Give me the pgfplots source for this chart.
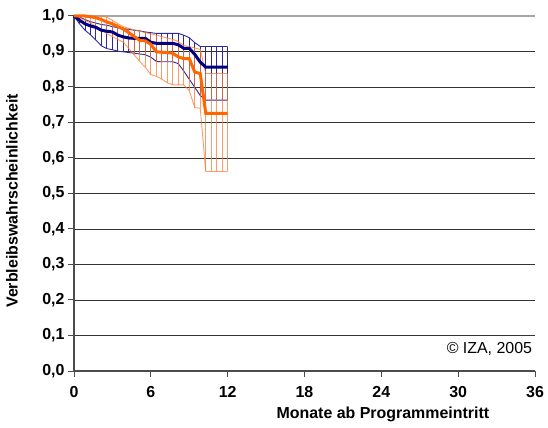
\documentclass[border=0pt]{standalone}
\usepackage{pgfplots}
\pgfplotsset{compat=1.18}
\usepackage{pgfplotstable}
\usepackage{fontspec}
\setmainfont{Liberation Sans}

\definecolor{navy}{HTML}{000080}
\definecolor{bband}{HTML}{2A2A9E}
\definecolor{omain}{HTML}{FF6600}
\definecolor{oband}{HTML}{FF7A30}

\pgfplotstableread{
x     bm    bh    bl    om    oh    ol
0.00  1.000 1.000 1.000 1.000 1.000 1.000
0.43  0.988 0.997 0.978 1.000 1.000 0.995
0.86  0.978 0.990 0.960 1.000 1.000 0.988
1.29  0.972 0.984 0.947 0.998 1.000 0.980
1.71  0.968 0.980 0.932 0.995 1.000 0.970
2.14  0.960 0.976 0.916 0.990 1.000 0.960
2.57  0.957 0.974 0.908 0.983 0.996 0.950
3.00  0.955 0.970 0.905 0.978 0.988 0.942
3.43  0.946 0.967 0.901 0.970 0.978 0.934
3.86  0.941 0.965 0.899 0.963 0.970 0.926
4.29  0.938 0.962 0.897 0.953 0.965 0.908
4.71  0.937 0.960 0.895 0.942 0.961 0.890
5.14  0.937 0.958 0.893 0.931 0.957 0.872
5.57  0.937 0.955 0.891 0.930 0.953 0.855
6.00  0.926 0.953 0.884 0.920 0.950 0.835
6.43  0.923 0.951 0.872 0.899 0.946 0.830
6.86  0.923 0.951 0.871 0.898 0.942 0.822
7.29  0.923 0.951 0.871 0.897 0.938 0.812
7.71  0.923 0.951 0.871 0.895 0.934 0.806
8.14  0.919 0.951 0.866 0.885 0.928 0.806
8.57  0.909 0.946 0.845 0.880 0.917 0.806
9.00  0.909 0.939 0.822 0.880 0.914 0.790
9.43  0.892 0.925 0.799 0.842 0.910 0.742
9.86  0.870 0.914 0.776 0.838 0.906 0.740
10.29 0.856 0.914 0.763 0.726 0.838 0.562
10.71 0.856 0.914 0.763 0.726 0.838 0.562
11.14 0.856 0.914 0.763 0.726 0.838 0.562
11.57 0.856 0.914 0.763 0.726 0.838 0.562
12.00 0.856 0.914 0.763 0.726 0.838 0.562
}\data

\begin{document}
\begin{tikzpicture}
\useasboundingbox (-74bp,-57bp) rectangle (474bp,371bp);
\begin{axis}[
  at={(0,0)}, anchor=south west,
  scale only axis, width=461bp, height=355bp,
  xmin=0, xmax=36, ymin=0, ymax=1,
  xtick={0,6,12,18,24,30,36},
  ytick={0,0.1,0.2,0.3,0.4,0.5,0.6,0.7,0.8,0.9,1},
  axis x line*=bottom, axis y line*=left,
  tick align=outside, major tick length=6bp,
  ymajorgrids, grid style={black!80, line width=0.9bp},
  axis line style={black!70, line width=1.3bp},
  tick style={black!70, line width=1bp},
  /pgf/number format/assume math mode=true,
  ticklabel style={font=\fontsize{16}{19}\selectfont\bfseries},
  yticklabel style={/pgf/number format/.cd, fixed, fixed zerofill, precision=1, use comma},
  xticklabel style={/pgf/number format/.cd, fixed, precision=0, /tikz/yshift=-6bp},
  xlabel={Monate ab Programmeintritt},
  label style={font=\fontsize{16}{19}\selectfont\bfseries},
  xlabel style={at={(rel axis cs:0.67,0)}, anchor=north, yshift=-32bp},
  clip=false,
]
\draw[gray!70, line width=1.6bp] (axis cs:0,1) -- (axis cs:36,1);
% blue confidence band
\addplot[bband, line width=0.9bp, mark=none,
  error bars/.cd, y dir=plus, y explicit, error mark=none,
  error bar style={bband, line width=0.9bp}]
  table[x=x, y=bl, y error expr=\thisrow{bh}-\thisrow{bl}] {\data};
\addplot[bband, line width=0.9bp, mark=none] table[x=x, y=bh] {\data};
% orange confidence band
\addplot[oband, opacity=0.75, line width=0.9bp, mark=none,
  error bars/.cd, y dir=plus, y explicit, error mark=none,
  error bar style={oband, opacity=0.75, line width=0.9bp}]
  table[x=x, y=ol, y error expr=\thisrow{oh}-\thisrow{ol}] {\data};
\addplot[oband, opacity=0.75, line width=0.9bp, mark=none] table[x=x, y=oh] {\data};
% means
\addplot[navy, line width=3bp, mark=none] table[x=x, y=bm] {\data};
\addplot[omain, line width=3bp, mark=none] table[x=x, y=om] {\data};
\node[anchor=east, inner sep=0pt, font=\fontsize{16}{19}\selectfont] at (rel axis cs:0.994,0.062) {© IZA, 2005};
\node[rotate=90, anchor=center, font=\fontsize{16}{19}\selectfont\bfseries] at ([xshift=-62bp]rel axis cs:0,0.479) {Verbleibswahrscheinlichkeit};
\end{axis}
\end{tikzpicture}
\end{document}
